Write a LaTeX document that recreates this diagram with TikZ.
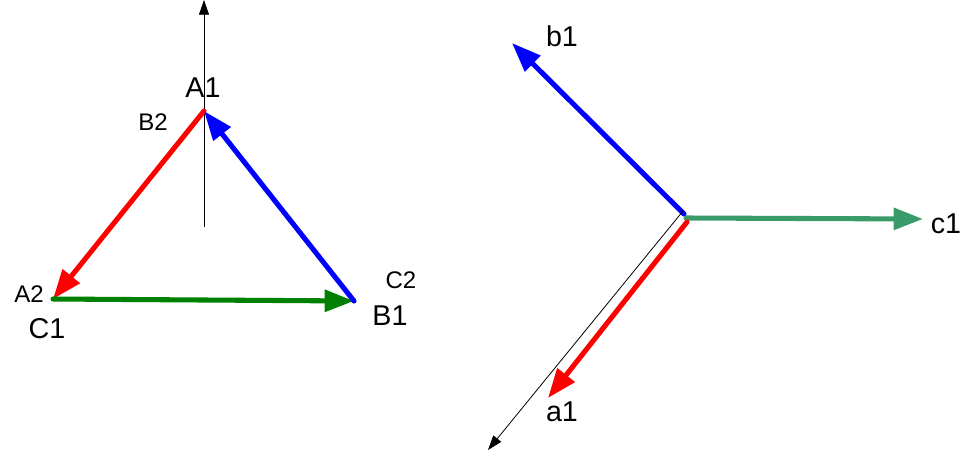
\documentclass[tikz,border=0pt]{standalone}
\usepackage{fontspec}
\setmainfont{Liberation Sans}
\usetikzlibrary{arrows.meta}
\definecolor{vred}{RGB}{255,0,0}
\definecolor{vblue}{RGB}{0,0,255}
\definecolor{vgreen}{RGB}{0,128,0}
\definecolor{vsea}{RGB}{58,155,106}
\tikzset{
  vec/.style={line width=3.8pt, line cap=round, -{Triangle[length=22pt,width=16pt]}},
  axis/.style={line width=0.6pt, black, -{Triangle[length=11pt,width=7.5pt]}},
  big/.style={font=\fontsize{21.5pt}{24pt}\selectfont, inner sep=0pt},
  small/.style={font=\fontsize{18pt}{20pt}\selectfont, inner sep=0pt}
}
\begin{document}
\begin{tikzpicture}[x=0.75pt,y=-0.75pt]
\useasboundingbox (0,0) rectangle (976,458);
% left triangle
\coordinate (A1) at (204,111);
\coordinate (A2) at (53,299);
\coordinate (B1) at (354,301);
\coordinate (ax0) at (204,227);
\coordinate (ax1) at (204,0);
\draw[axis] (ax0) -- (ax1);
\draw[vec, vred] (A1) -- (A2);
\draw[vec, vgreen] (A2) -- (B1);
\draw[vec, vblue] (B1) -- (A1);
\node[big] (lA1) at (203,88) {A1};
\node[small] (lB2) at (153,122) {B2};
\node[small] (lA2) at (29,294) {A2};
\node[big] (lC1) at (47,329) {C1};
\node[small] (lC2) at (401,280) {C2};
\node[big] (lB1) at (390,316) {B1};
% right star
\coordinate (O) at (686,218);
\coordinate (Ob) at (684,214);
\coordinate (Or) at (687,222);
\coordinate (b1) at (512,43);
\coordinate (c1) at (923,219);
\coordinate (a1) at (548,398);
\coordinate (k0) at (683,211);
\coordinate (k1) at (488,450);
\draw[vec, vblue] (Ob) -- (b1);
\draw[vec, vsea] (O) -- (c1);
\draw[axis] (k0) -- (k1);
\draw[vec, vred] (Or) -- (a1);
\node[big] (lb1) at (562,36) {b1};
\node[big] (lc1) at (946,224) {c1};
\node[big] (la1) at (562,412) {a1};
\end{tikzpicture}
\end{document}
